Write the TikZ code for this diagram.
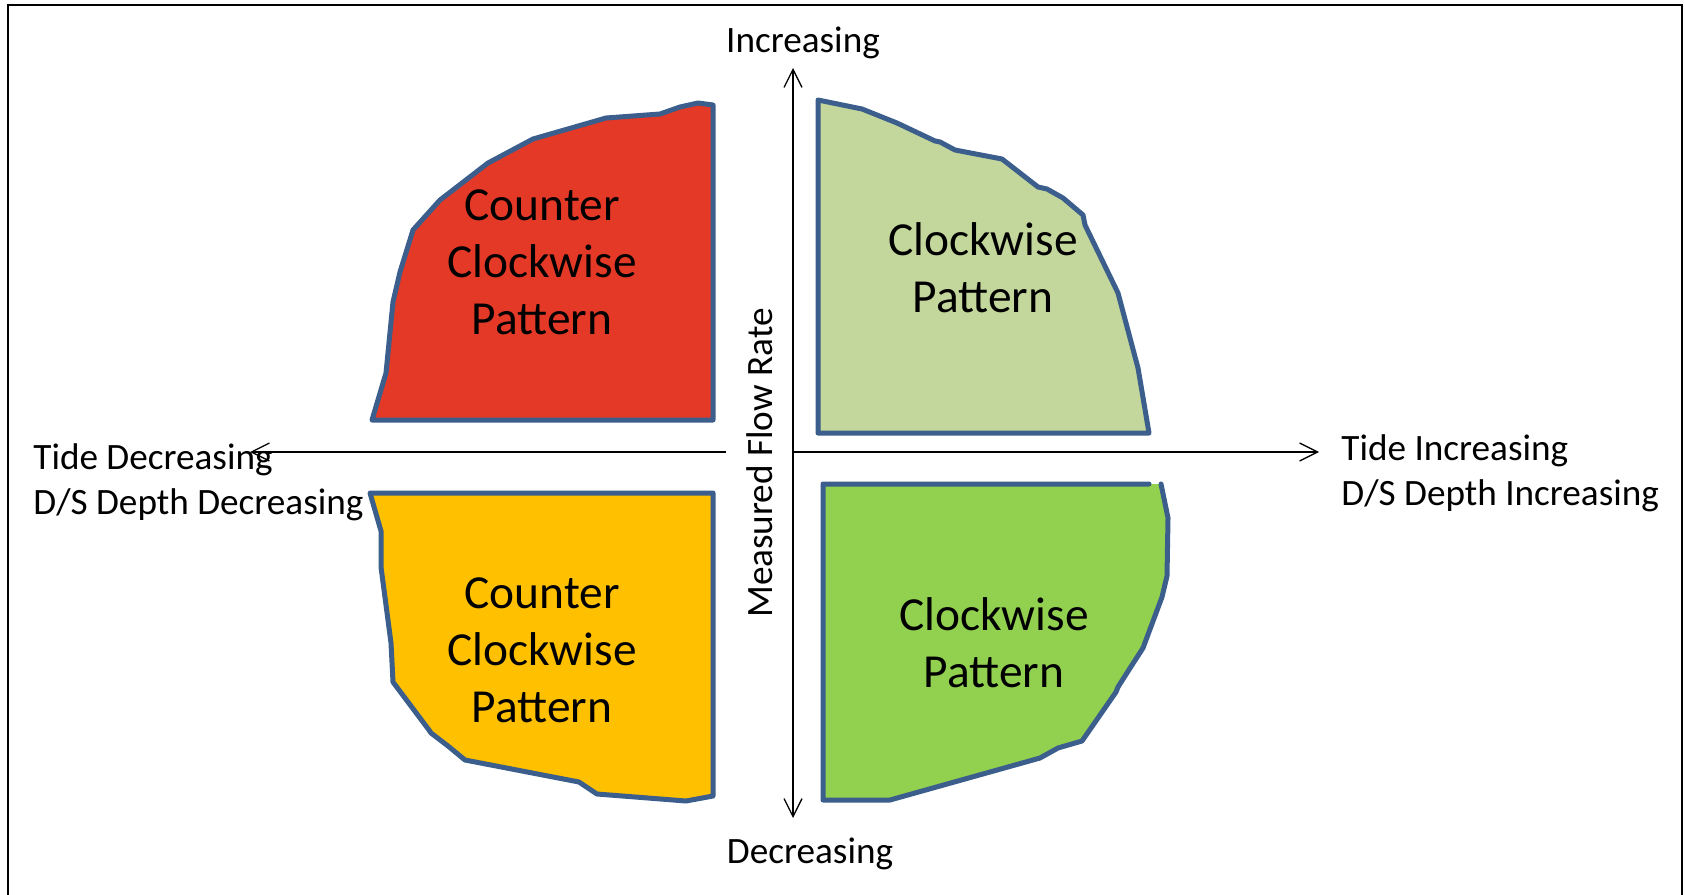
\documentclass[tikz,border=0pt]{standalone}
\usepackage{fontspec}
\setmainfont{Carlito}
\usetikzlibrary{arrows.meta}

\definecolor{edgeblue}{RGB}{59,94,140}
\definecolor{redfill}{RGB}{228,57,39}
\definecolor{palegreen}{RGB}{195,214,155}
\definecolor{amber}{RGB}{255,192,0}
\definecolor{leafgreen}{RGB}{146,208,80}

\tikzset{
  region/.style={draw=edgeblue, line width=2.5pt, line join=round, line cap=round},
  regionlabel/.style={align=center, inner sep=0pt,
    font=\fontsize{23.7}{28.5}\selectfont},
  axislabel/.style={inner sep=0pt, font=\fontsize{18.6}{22.5}\selectfont},
  axis/.style={line width=0.65pt, -{Straight Barb[length=9pt,width=9pt,line width=0.65pt]}}
}

\begin{document}
\begin{tikzpicture}[x=0.5pt, y=-0.5pt]
\useasboundingbox (0,0) rectangle (1685,894);

% outer frame
\draw[line width=1pt] (8,5) rectangle (1682,910);

% upper-left region
\filldraw[region, fill=redfill]
  (372,420) -- (386,373) -- (393,302) -- (400,272) -- (413,230) -- (440,200)
  -- (488,163) -- (533,139) -- (606,118) -- (660,114) -- (680,107) -- (698,103)
  -- (713,105) -- (713,420) -- cycle;

% upper-right region
\filldraw[region, fill=palegreen]
  (818,100) -- (862,109) -- (897,123) -- (935,141) -- (940,142) -- (955,150)
  -- (1002,159) -- (1038,187) -- (1047,189) -- (1063,198) -- (1083,215)
  -- (1085,225) -- (1118,293) -- (1138,368) -- (1149,433) -- (818,433) -- cycle;

% lower-left region
\filldraw[region, fill=amber]
  (370,493) -- (381,531) -- (381,567) -- (391,643) -- (393,682) -- (429,730)
  -- (431,733) -- (448,746) -- (465,760) -- (579,782) -- (597,794) -- (686,801)
  -- (713,796) -- (713,493) -- cycle;

% lower-right region: filled shape, outline left open at the top-right corner
\fill[leafgreen]
  (823,484) -- (1161,484) -- (1168,518) -- (1167,576) -- (1162,597) -- (1143,648)
  -- (1132,665) -- (1118,687) -- (1116,692) -- (1082,741) -- (1058,748)
  -- (1040,758) -- (890,800) -- (823,800) -- cycle;
\draw[region]
  (1161,484) -- (1168,518) -- (1167,576) -- (1162,597) -- (1143,648)
  -- (1132,665) -- (1118,687) -- (1116,692) -- (1082,741) -- (1058,748)
  -- (1040,758) -- (890,800) -- (823,800) -- (823,484) -- (1149,484);

% region labels
\node[regionlabel] (ccwtop) at (542,262) {Counter\\Clockwise\\Pattern};
\node[regionlabel] (cwtop) at (983,268) {Clockwise\\Pattern};
\node[regionlabel] (ccwbot) at (542,650) {Counter\\Clockwise\\Pattern};
\node[regionlabel] (cwbot) at (994,643) {Clockwise\\Pattern};

% axes
\coordinate (origin) at (793,452);
\coordinate (ytop) at (793,68);
\coordinate (ybot) at (793,818);
\coordinate (xleft) at (250,452);
\coordinate (xgap) at (726,452);
\coordinate (xright) at (1319,452);
\draw[axis] (origin) -- (ytop);
\draw[axis] (origin) -- (ybot);
\draw[axis] (xgap) -- (xleft);
\draw[axis] (origin) -- (xright);

% axis labels
\node[axislabel, anchor=base] (inc) at (803,52) {Increasing};
\node[axislabel, anchor=base] (dec) at (810,863) {Decreasing};
\node[axislabel, anchor=base, rotate=90] (flow) at (772,463) {Measured Flow Rate};
\node[axislabel, align=left, anchor=west] (tidedec) at (33,482)
  {Tide Decreasing\\D/S Depth Decreasing};
\node[axislabel, align=left, anchor=west] (tideinc) at (1341,473)
  {Tide Increasing\\D/S Depth Increasing};
\end{tikzpicture}
\end{document}
